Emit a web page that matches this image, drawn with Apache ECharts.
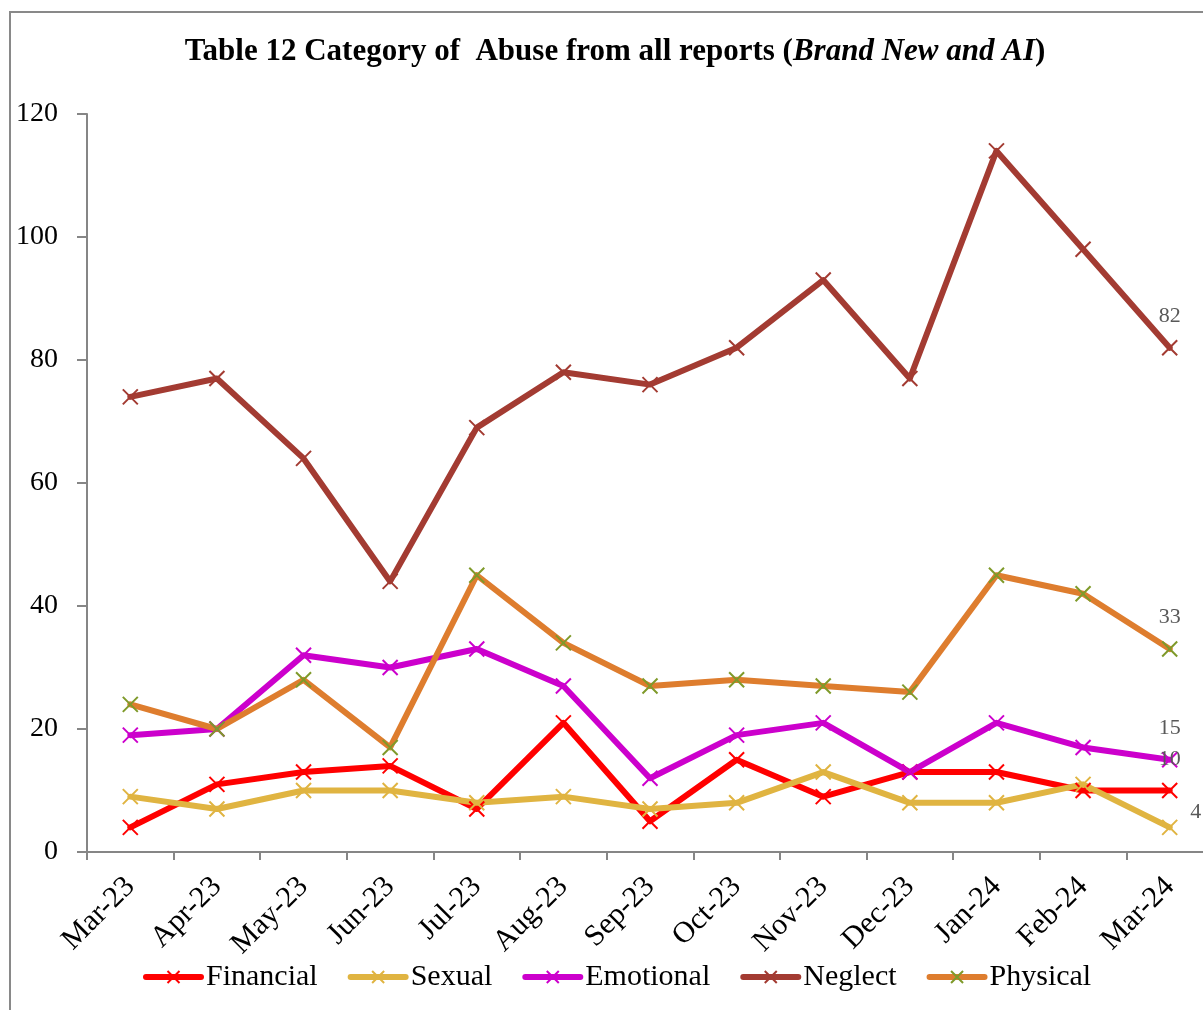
<!DOCTYPE html>
<html>
<head>
<meta charset="utf-8">
<script src="https://cdn.jsdelivr.net/npm/echarts@6/dist/echarts.min.js"></script>
<style>
html,body{margin:0;padding:0;background:#fff;overflow:hidden;width:1203px;height:1010px;}
#chart{width:1225px;height:1010px;}
</style>
</head>
<body>
<div id="chart"></div>
<script>
const categories = ['Mar-23','Apr-23','May-23','Jun-23','Jul-23','Aug-23','Sep-23','Oct-23','Nov-23','Dec-23','Jan-24','Feb-24','Mar-24'];
const financial = [4, 11, 13, 14, 7, 21, 5, 15, 9, 13, 13, 10, 10];
const sexual    = [9, 7, 10, 10, 8, 9, 7, 8, 13, 8, 8, 11, 4];
const emotional = [19, 20, 32, 30, 33, 27, 12, 19, 21, 13, 21, 17, 15];
const neglect   = [74, 77, 64, 44, 69, 78, 76, 82, 93, 77, 114, 98, 82];
const physical  = [24, 20, 28, 17, 45, 34, 27, 28, 27, 26, 45, 42, 33];
const yTicks = [0, 20, 40, 60, 80, 100, 120];

const FONT = 'Liberation Serif';
const X_SYMBOL = 'path://M0,0L10,10M10,0L0,10';

function mkSeries(name, values, lineColor, markerColor, lastLabel) {
  const last = values.length - 1;
  return {
    name: name,
    type: 'line',
    data: values.map((v, i) => i === last ? { value: v, label: Object.assign({ show: true }, lastLabel) } : v),
    symbol: X_SYMBOL,
    symbolSize: 15,
    showAllSymbol: true,
    lineStyle: { color: lineColor, width: 6, cap: 'round', join: 'round' },
    itemStyle: { color: markerColor, borderColor: markerColor, borderWidth: 2 },
    label: { show: false, fontFamily: FONT, fontSize: 22, color: '#595959' },
    emphasis: { disabled: true },
    z: 2
  };
}

const chart = echarts.init(document.getElementById('chart'), null, { renderer: 'canvas' });
chart.setOption({
  backgroundColor: '#ffffff',
  animation: false,
  graphic: [{
    type: 'rect',
    shape: { x: 10, y: 12, width: 1230, height: 1030 },
    style: { fill: 'none', stroke: '#898989', lineWidth: 2 },
    silent: true, z: -1
  }],
  title: {
    text: '{a|Table 12 Category of  Abuse from all reports (}{b|Brand New and AI}{a|)}',
    left: 610, top: 31, textAlign: 'center',
    textStyle: {
      rich: {
        a: { fontFamily: FONT, fontSize: 31, fontWeight: 'bold', color: '#000' },
        b: { fontFamily: FONT, fontSize: 31, fontWeight: 'bold', fontStyle: 'italic', color: '#000' }
      }
    }
  },
  legend: {
    left: 138, top: 957,
    itemWidth: 55, itemHeight: 15, itemGap: 30,
    lineStyle: { width: 6, cap: 'round' },
    textStyle: { fontFamily: FONT, fontSize: 30, color: '#000' },
    data: ['Financial', 'Sexual', 'Emotional', 'Neglect', 'Physical']
  },
  grid: { left: 87, top: 114, width: 1126, height: 738 },
  xAxis: {
    type: 'category',
    data: categories,
    boundaryGap: true,
    axisLine: { lineStyle: { color: '#868686', width: 2 } },
    axisTick: { show: true, length: 8, lineStyle: { color: '#868686', width: 2 } },
    axisLabel: { rotate: 45, fontFamily: FONT, fontSize: 30, color: '#000', margin: 30, interval: 0 }
  },
  yAxis: {
    type: 'value',
    min: yTicks[0], max: yTicks[yTicks.length - 1], interval: 20,
    axisLine: { show: true, lineStyle: { color: '#868686', width: 2 } },
    axisTick: { show: true, length: 10, lineStyle: { color: '#868686', width: 2 } },
    splitLine: { show: false },
    axisLabel: { fontFamily: FONT, fontSize: 28, color: '#000', margin: 29 }
  },
  series: [
    mkSeries('Financial', financial, '#FF0000', '#FF0000', { position: 'top', distance: 12 }),
    mkSeries('Sexual', sexual, '#E0B441', '#E0B441', { position: 'right', distance: 12, offset: [0, -15] }),
    mkSeries('Emotional', emotional, '#CC00CC', '#CC00CC', { position: 'top', distance: 12 }),
    mkSeries('Neglect', neglect, '#A33B32', '#A33B32', { position: 'top', distance: 12 }),
    mkSeries('Physical', physical, '#DE7D2E', '#7F9A2A', { position: 'top', distance: 12 })
  ]
});
</script>
</body>
</html>
